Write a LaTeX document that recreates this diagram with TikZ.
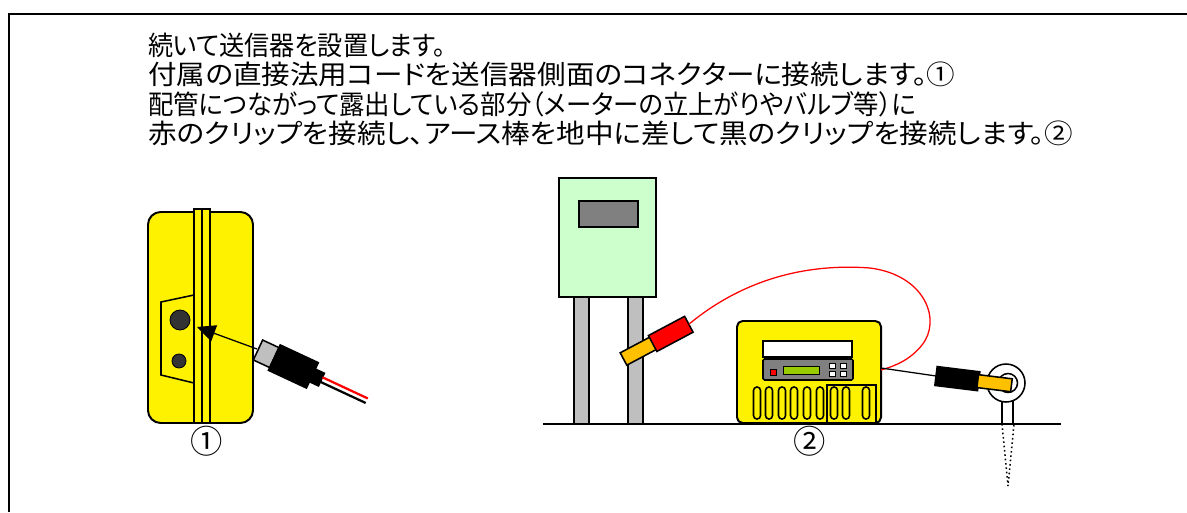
\documentclass[tikz,border=0pt]{standalone}
\usepackage{fontspec}
\setmainfont{Noto Sans CJK JP}[RawFeature=+palt]
\usetikzlibrary{arrows.meta,positioning}

\definecolor{meterbox}{HTML}{CCFFCC}
\definecolor{tipyellow}{HTML}{FFC000}
\definecolor{lcd}{HTML}{99CC00}

\begin{document}
\begin{tikzpicture}[x=0.025cm, y=-0.025cm,
    textline/.style={font=\fontsize{19}{21}\selectfont, anchor=base west, inner sep=0pt},
    num/.style={font=\fontsize{23}{25}\selectfont, inner sep=0pt},
    body/.style={draw, line width=1.4pt, fill=yellow},
    part/.style={draw, line width=1.1pt},
    thin/.style={draw, line width=0.6pt},
    cord/.style={line width=0.9pt},
    arrow/.style={-{Triangle[length=13pt,width=12pt]}, line width=0.9pt}
]
    \useasboundingbox (0,0) rectangle (1187,512);
    \draw[line width=1.5pt] (9,512) -- (9,14) -- (1187,14);

    \node[textline] (line1) at (148,56) {\scalebox{0.94}[1]{続いて送信器を設置します。}};
    \node[textline] (line2) at (148,85) {\scalebox{1.07}[1]{付属の直接法用コードを送信器側面のコネクターに接続します。①}};
    \node[textline] (line3) at (148,114) {\scalebox{0.95}[1]{配管につながって露出している部分（メーターの立上がりやバルブ等）に}};
    \node[textline] (line4) at (148,143) {\scalebox{1.07}[1]{赤のクリップを接続し、アース棒を地中に差して黒のクリップを接続します。②}};

    % transmitter, side view
    \draw[body, rounded corners=9pt] (148,212) rectangle (253,423);
    \draw[part] (161,302) -- (194,295) -- (194,383) -- (161,375) -- cycle;
    \draw[part, fill=yellow] (194,209) rectangle (202,423);
    \draw[part, fill=yellow] (202,209) rectangle (210,423);
    \filldraw[thin, fill=black!80] (180,320) circle[radius=10];
    \filldraw[thin, fill=black!80] (179,361) circle[radius=7];
    \coordinate (socket) at (197,327);

    \coordinate (plug) at (257,349);
    \draw[arrow] (plug) -- (socket);
    \begin{scope}[shift={(258,350)}, rotate=-25]
        \draw[part, fill=lightgray] (0,-11) rectangle (18,11);
        \filldraw[part] (18,-14) rectangle (60,14);
        \filldraw[part] (60,-7) rectangle (70,7);
        \draw[red, line width=1.6pt] (70,-2.5) -- (120,-2.5);
        \draw[line width=1.6pt] (70,2.5) -- (120,2.5);
    \end{scope}
    \node[num] (one) at (207,441) {①};

    % gas meter on its pipes
    \draw[part, fill=lightgray] (574,297) rectangle (589,424);
    \draw[part, fill=lightgray] (628,297) rectangle (643,424);
    \draw[part, fill=meterbox] (559,178) rectangle (656,297);
    \draw[part, fill=gray] (579,201) rectangle (638,227);
    \draw[line width=1.4pt] (543,424) -- (1061,424);

    % red clip on the pipe
    \begin{scope}[shift={(623.5,359)}, rotate=28]
        \draw[part, fill=tipyellow] (0,-7) rectangle (34,7);
        \draw[part, fill=red] (33,-9) rectangle (74,9);
        \coordinate (redclip) at (74,0);
    \end{scope}

    % transmitter, front view
    \draw[body, rounded corners=4pt] (737,321) rectangle (881,423);
    \draw[part, fill=white] (763,341) rectangle (852,357);
    \draw[part, fill=gray, rounded corners=1pt] (763,359) rectangle (853,380);
    \draw[thin, fill=red] (770,369) rectangle (776,375);
    \draw[thin, fill=lcd] (783,366) rectangle (819,374);
    \foreach \bx in {829,840}
        \foreach \by in {363,371}
            \draw[thin, fill=white] (\bx,\by) rectangle ++(6,5);
    \foreach \vx in {757,769,782,794,807,820,834,846,866}
        \draw[part, rounded corners=2.4pt] (\vx-3.5,387) rectangle (\vx+3.5,419);
    \draw[part] (827,385) rectangle (876,423);
    \coordinate (redin) at (881,370);
    \coordinate (blackout) at (881,368);
    \node[num] (two) at (810,441) {②};

    \draw[red, cord] (redclip) .. controls (730,290) and (790,262) .. (870,268)
        .. controls (925,275) and (942,320) .. (922,345)
        .. controls (910,360) and (895,366) .. (redin);

    % earth rod
    \draw[part, fill=white] (1002,395) rectangle (1013,424);
    \draw[part, dotted] (1002,424) -- (1008,486) -- (1014,424);
    \filldraw[part, fill=white] (1006,383) circle[radius=19];
    \draw[part] (1008,383) circle[radius=9.5];

    % black clip on the rod
    \begin{scope}[shift={(936,376)}, rotate=-7]
        \coordinate (blackclip) at (0,0);
        \filldraw[part] (0,-9.5) rectangle (43,9.5);
        \draw[part, fill=tipyellow] (42,-6.5) rectangle (76,6.5);
    \end{scope}
    \draw[cord] (blackout) -- (blackclip);
\end{tikzpicture}
\end{document}
